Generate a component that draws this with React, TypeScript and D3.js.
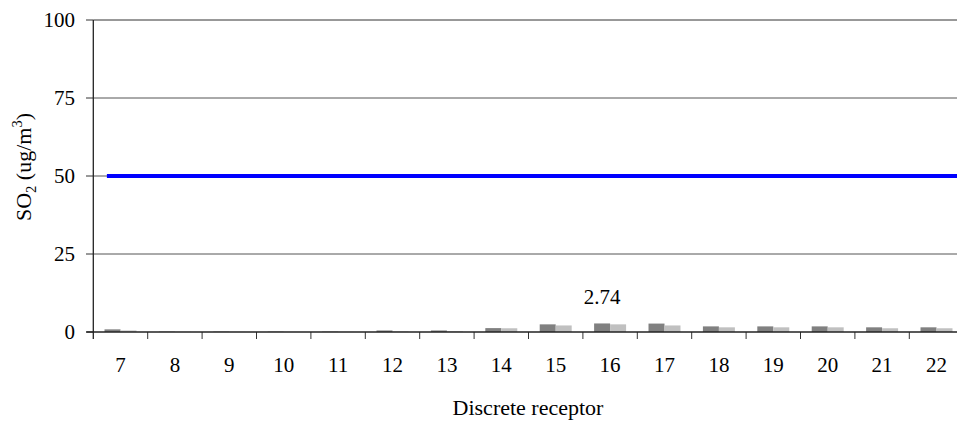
import React from "react";
import * as d3 from "d3";

const categories = ["7", "8", "9", "10", "11", "12", "13", "14", "15", "16", "17", "18", "19", "20", "21", "22"];
const seriesA = [0.85, 0.1, 0.1, 0.1, 0.1, 0.5, 0.5, 1.25, 2.45, 2.74, 2.7, 1.8, 1.8, 1.8, 1.5, 1.5];
const seriesB = [0.5, 0.05, 0.05, 0.05, 0.05, 0.15, 0.2, 1.2, 2.1, 2.45, 2.1, 1.5, 1.5, 1.5, 1.2, 1.2];
const standard = 50;
const yTicks = [0, 25, 50, 75, 100];
const labelIndex = 9;
const labelText = "2.74";

const W = 957;
const H = 423;
const left = 93.3;
const right = 963.7;
const top = 20;
const bottom = 332;
const FF = "Liberation Serif, Tinos, Times New Roman, Times, serif";
const fontStyle = { fontFamily: FF };

export default function App() {
  const x = d3.scaleBand<string>().domain(categories).range([left, right]).paddingInner(0).paddingOuter(0);
  const y = d3.scaleLinear().domain([0, 100]).range([bottom, top]);
  const bw = x.bandwidth();
  const barW = bw * 0.294;
  const groupOff = (bw - 2 * barW) / 2;
  const lineStart = (x(categories[0]) as number) + bw * 0.25;

  return (
    <svg
      width={W}
      height={H}
      fontFamily={FF}
      style={{ display: "block", position: "absolute", left: 0, top: 0, overflow: "hidden", fontFamily: FF }}
    >
      <rect x={0} y={0} width={W} height={H} fill="#fff" />
      {yTicks.map((t) => (
        <g key={t}>
          {t > 0 && (
            <line x1={left} x2={right} y1={y(t)} y2={y(t)} stroke={t === 100 ? "#333" : "#555"} strokeWidth={1} />
          )}
          <line x1={86} x2={left} y1={y(t)} y2={y(t)} stroke="#333" strokeWidth={1} />
          <text x={75} y={y(t)} dy="0.34em" textAnchor="end" fontSize={21} fill="#000" fontFamily={FF} style={fontStyle}>
            {t}
          </text>
        </g>
      ))}
      {categories.map((c, i) => {
        const x0 = x(c) as number;
        return (
          <g key={c}>
            <rect x={x0 + groupOff} y={y(seriesA[i])} width={barW} height={bottom - y(seriesA[i])} fill="#808080" />
            <rect x={x0 + groupOff + barW} y={y(seriesB[i])} width={barW} height={bottom - y(seriesB[i])} fill="#c0c0c0" />
            <line x1={x0 + bw} x2={x0 + bw} y1={bottom} y2={bottom + 7} stroke="#333" strokeWidth={1} />
            <text x={x0 + bw / 2} y={372} textAnchor="middle" fontSize={21} fill="#000" fontFamily={FF} style={fontStyle}>
              {c}
            </text>
          </g>
        );
      })}
      <line x1={lineStart} x2={right} y1={y(standard)} y2={y(standard)} stroke="#0000ff" strokeWidth={4} />
      <line x1={left} x2={left} y1={top} y2={bottom + 7} stroke="#222" strokeWidth={1.3} />
      <line x1={left - 7} x2={right} y1={bottom} y2={bottom} stroke="#222" strokeWidth={1.3} />
      <text
        x={(x(categories[labelIndex]) as number) + groupOff + barW / 2}
        y={304}
        textAnchor="middle"
        fontSize={21}
        fill="#000"
        fontFamily={FF}
        style={fontStyle}
      >
        {labelText}
      </text>
      <text x={528} y={415} textAnchor="middle" fontSize={22} fill="#000" fontFamily={FF} style={fontStyle}>
        Discrete receptor
      </text>
      <text
        transform="translate(31,167) rotate(-90)"
        textAnchor="middle"
        fontSize={22}
        fill="#000"
        fontFamily={FF}
        style={fontStyle}
      >
        SO
        <tspan fontSize={14.5} dy={5}>2</tspan>
        <tspan dy={-5}> (ug/m</tspan>
        <tspan fontSize={14.5} dy={-9}>3</tspan>
        <tspan dy={9}>)</tspan>
      </text>
    </svg>
  );
}
